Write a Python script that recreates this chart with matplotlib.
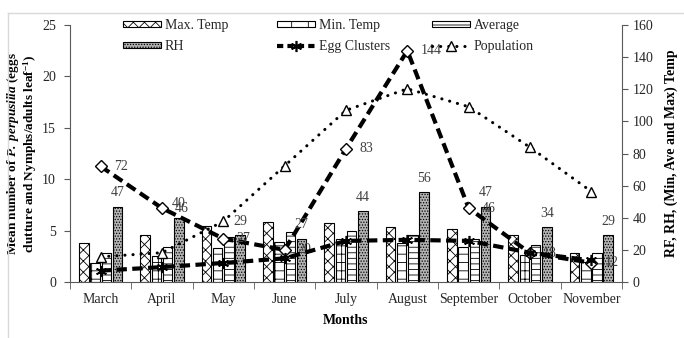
import matplotlib
matplotlib.use('Agg')
import matplotlib.pyplot as plt
import numpy as np
from matplotlib.lines import Line2D
from matplotlib.patches import Patch

plt.rcParams['font.family'] = ['Liberation Serif', 'DejaVu Serif']
plt.rcParams['font.size'] = 10
plt.rcParams['mathtext.fontset'] = 'custom'
plt.rcParams['mathtext.rm'] = 'Liberation Serif'
plt.rcParams['mathtext.it'] = 'Liberation Serif:italic'
plt.rcParams['mathtext.bf'] = 'Liberation Serif:bold'
plt.rcParams['mathtext.bfit'] = 'Liberation Serif:bold:italic'
plt.rcParams['hatch.linewidth'] = 0.6

months = ['March', 'April', 'May', 'June', 'July', 'August', 'September', 'October', 'November']
max_temp = [24, 29, 35, 37.5, 37, 34.5, 33, 29, 18]
min_temp = [12, 16, 21, 25, 26.5, 24.5, 21.5, 17, 12.5]
avg_temp = [18, 22, 28, 31.3, 31.7, 29.3, 27, 23, 18.2]
rh = [47, 40, 29, 27, 44, 56, 47, 34, 29]
rf = [72, 46, 27, 20, 83, 144, 46, 18, 12]
egg_clusters = [1.1, 1.45, 1.85, 2.3, 4.0, 4.1, 4.0, 2.85, 2.1]
population = [2.45, 2.85, 5.9, 11.3, 16.7, 18.8, 17.05, 13.1, 8.8]

tick_col = '#262626'
spine_col = '#595959'
rh_face = '#b3b3b3'

fig = plt.figure(figsize=(6.84, 3.38), dpi=100)
ax = fig.add_axes([0.1023, 0.1657, 0.8071, 0.7603])
ax2 = ax.twinx()
ax.set_zorder(ax2.get_zorder() + 1)
ax.patch.set_visible(False)

x = np.arange(len(months))
w = 0.155
step = 0.183
bar_kw = dict(width=w, edgecolor='black', linewidth=0.8)
ax2.bar(x - 1.5 * step, max_temp, hatch='xxx', color='white', **bar_kw)
ax2.bar(x - 0.5 * step, min_temp, hatch='-+', color='white', **bar_kw)
ax2.bar(x + 0.5 * step, avg_temp, hatch='---', color='white', **bar_kw)
ax2.bar(x + 1.5 * step, rh, hatch='......', color=rh_face, **bar_kw)

for xi, v in zip(x, rh):
    ax2.annotate(str(v), (xi + 1.5 * step, v), xytext=(0, 10), textcoords='offset points',
                 ha='center', va='center', color='#404040', fontsize=10)

# rainfall on the right scale
ax2.plot(x, rf, color='black', lw=3, dashes=(2.5, 1.3), marker='D', ms=6,
         mfc='white', mec='black', mew=1)
for xi, v in zip(x, rf):
    ax2.annotate(str(v), (xi, v), xytext=(9.5, 0), textcoords='offset points',
                 ha='left', va='center', color='#404040', fontsize=10)

ax.plot(x, egg_clusters, color='black', lw=3, dashes=(2.5, 1.3), marker=(6, 2, 0),
        ms=8, mew=1.2)
ax.plot(x, population, color='black', lw=2.2, linestyle=(0, (0.05, 2.6)),
        dash_capstyle='round', marker='^', ms=6.5, mfc='white', mec='black', mew=1)

ax.set_xlim(-0.5, len(months) - 0.5)
ax.set_ylim(0, 25)
ax2.set_ylim(0, 160)
ax.set_yticks(range(0, 26, 5))
ax2.set_yticks(range(0, 161, 20))
ax.set_xticks(x)
ax.set_xticklabels(months)
ax.set_xticks(np.arange(-0.5, len(months)), minor=True)
ax.tick_params(axis='x', which='major', length=0, pad=8, colors=tick_col, labelsize=10)
ax.tick_params(axis='x', which='minor', length=5, direction='out', color=spine_col)
ax.tick_params(axis='y', length=4, pad=6, direction='out', color=spine_col,
               labelcolor=tick_col, labelsize=10)
ax2.tick_params(axis='y', length=4, direction='out', color=spine_col, labelcolor=tick_col, labelsize=10)

for a in (ax, ax2):
    a.spines['top'].set_visible(False)
    for s in a.spines.values():
        s.set_color(spine_col)
        s.set_linewidth(0.8)
ax.spines['right'].set_visible(False)
ax2.spines['left'].set_visible(False)
ax2.spines['bottom'].set_visible(False)

ax.set_xlabel('Months', fontweight='bold', fontsize=10, labelpad=6)
ax.set_ylabel('Mean number of $\\mathbfit{P.\\ perpusilla}$ (eggs\n'
              'clutture and Nymphs/adults leaf$^{\\mathbf{-1}}$)',
              fontweight='bold', fontsize=9.5, linespacing=1.05)
ax.yaxis.set_label_coords(-31 / 552, 0.5)
ax2.set_ylabel('RF, RH, (Min, Ave and Max) Temp', fontweight='bold', fontsize=10, labelpad=8)

# legend laid out as three columns of two entries
bar_h = dict(edgecolor='black', linewidth=0.8)
columns = [
    [(Patch(hatch='xxx', facecolor='white', **bar_h), 'Max. Temp'),
     (Patch(hatch='......', facecolor=rh_face, **bar_h), 'RH')],
    [(Patch(hatch='-+', facecolor='white', **bar_h), 'Min. Temp'),
     (Line2D([], [], color='black', lw=3, dashes=(1.5, 1), marker=(6, 2, 0), ms=8, mew=1.2), 'Egg Clusters')],
    [(Patch(hatch='---', facecolor='white', **bar_h), 'Average'),
     (Line2D([], [], color='black', lw=2.2, linestyle=(0, (0.05, 2.6)), dash_capstyle='round',
             marker='^', ms=6.5, mfc='white', mec='black', mew=1), 'Population')],
]
col_x = [123, 277, 432]
for cx, col in zip(col_x, columns):
    leg = fig.legend([h for h, _ in col], [t for _, t in col], loc='upper left',
                     bbox_to_anchor=(cx / 684, 1 - 19 / 338), frameon=False,
                     borderpad=0, borderaxespad=0, handlelength=2.7, handleheight=0.3,
                     handletextpad=0.3, labelspacing=0.55, fontsize=10)
    for t in leg.get_texts():
        t.set_color(tick_col)

# light chart-area border
fig.add_artist(Line2D([8 / 684, 8 / 684], [0, 1 - 13 / 338], transform=fig.transFigure,
                      color='#d9d9d9', lw=1))
fig.add_artist(Line2D([8 / 684, 1], [1 - 13 / 338, 1 - 13 / 338], transform=fig.transFigure,
                      color='#d9d9d9', lw=1))

fig.savefig('out.png', dpi=100)
